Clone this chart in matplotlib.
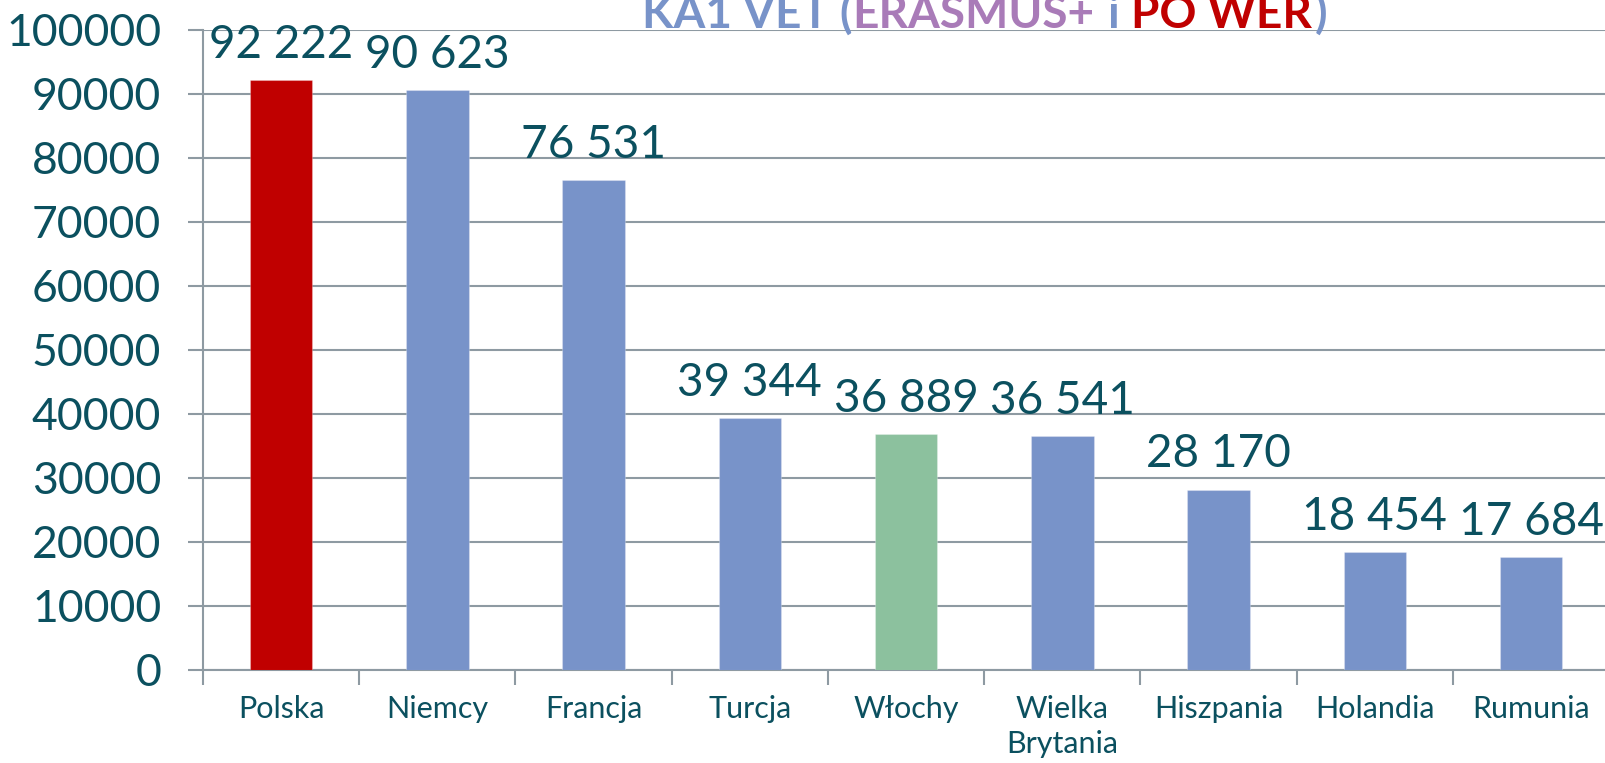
import numpy as np
import matplotlib.pyplot as plt
from matplotlib.ticker import FixedLocator

plt.rcParams['font.family'] = ['Lato', 'DejaVu Sans']

# Data
countries = ["Polska", "Niemcy", "Francja", "Turcja", "Włochy",
             "Wielka\nBrytania", "Hiszpania", "Holandia", "Rumunia"]
values = [92222, 90623, 76531, 39344, 36889, 36541, 28170, 18454, 17684]
bar_colors = ["#C00000", "#7893C9", "#7893C9", "#7893C9", "#8CC19E",
              "#7893C9", "#7893C9", "#7893C9", "#7893C9"]
y_ticks = [0, 10000, 20000, 30000, 40000, 50000, 60000, 70000, 80000, 90000, 100000]

text_color = "#0B505F"
grid_color = "#8E9AA2"

fig = plt.figure(figsize=(16.06, 7.63), dpi=100)
ax = fig.add_axes([203 / 1606, 93 / 763, 1 - 203 / 1606, 640 / 763])

x = np.arange(len(countries))
ax.bar(x, values, width=0.40, color=bar_colors, edgecolor="#FFFFFF40",
       linewidth=0.8, zorder=3)

# value labels above bars
for xi, v in zip(x, values):
    ax.annotate(f"{v:,}".replace(",", " "), xy=(xi, v), xytext=(0, 16),
                textcoords="offset points", ha="center", va="baseline",
                fontsize=33, color=text_color, annotation_clip=False, zorder=4)

ax.set_xlim(-0.5, 8.48)
ax.set_ylim(0, 100000)

# y axis
ax.set_yticks(y_ticks)
ax.set_yticklabels([str(t) for t in y_ticks])
ax.tick_params(axis="y", length=11, width=1.5, color=grid_color, pad=19,
               labelsize=32, labelcolor=text_color)
ax.yaxis.grid(True, color=grid_color, linewidth=1.5, zorder=0)

# x axis: labels at centres, tick marks at category boundaries
ax.set_xticks(x)
ax.set_xticklabels(countries, fontsize=22, color=text_color, linespacing=1.3)
ax.tick_params(axis="x", which="major", length=0, pad=18)
ax.xaxis.set_minor_locator(FixedLocator(np.arange(-0.5, 8.6, 1)))
ax.tick_params(axis="x", which="minor", length=11, width=1.5, color=grid_color)

for side in ["top", "right"]:
    ax.spines[side].set_visible(False)
for side in ["left", "bottom"]:
    ax.spines[side].set_color(grid_color)
    ax.spines[side].set_linewidth(1.5)

# multi-colour title, clipped by the top edge as in the original slide
blue, purple, red = "#7893C9", "#A97BB8", "#C00000"
pieces = [("KA1 VET (", blue, 0), ("ERASMUS+", purple, 0), ("i", blue, 13),
          ("PO WER", red, 12), (")", blue, 2)]
fig.canvas.draw()
renderer = fig.canvas.get_renderer()

xpos = 642
for txt, col, gap in pieces:
    xpos += gap
    t = fig.text(xpos / 1606, 1 - 28 / 763, txt, fontsize=33, fontweight="bold",
                 color=col, ha="left", va="baseline")
    xpos += t.get_window_extent(renderer).width

fig.savefig("out.png", dpi=100)
